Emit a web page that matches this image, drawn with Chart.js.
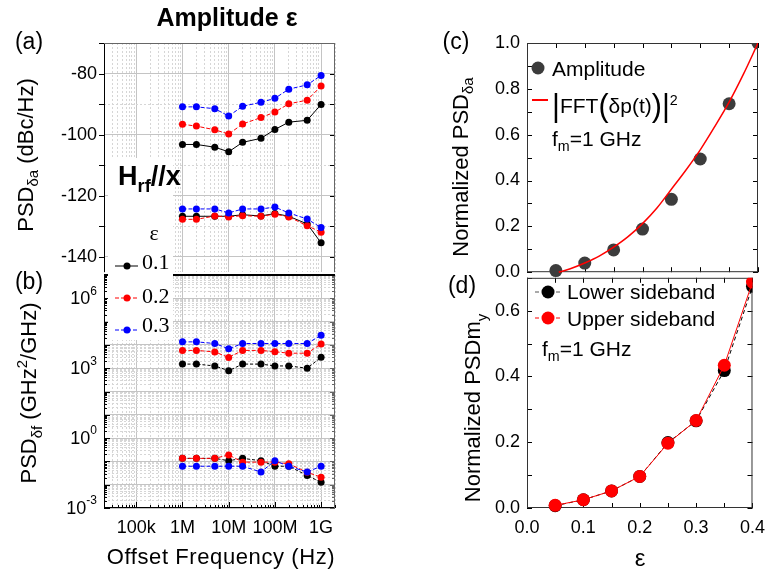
<!DOCTYPE html>
<html>
<head>
<meta charset="utf-8">
<script src="https://cdn.jsdelivr.net/npm/chart.js@4.4.0/dist/chart.umd.min.js"></script>
<style>
body { margin: 0; background: #fff; }
#page { position: relative; width: 774px; height: 576px; overflow: hidden; font-family: "Liberation Sans", Arial, sans-serif; color: #000; }
canvas { position: absolute; }
.t { position: absolute; white-space: nowrap; line-height: 1; transform: translate(-50%, -50%); }
.l { position: absolute; white-space: nowrap; line-height: 1; transform: translate(0, -50%); }
.rot { transform: translate(-50%, -50%) rotate(-90deg); }
.sb { font-size: 0.68em; vertical-align: -0.35em; }
.sp { font-size: 0.68em; vertical-align: 0.6em; }
.serif { font-family: "Liberation Serif", "Times New Roman", serif; }
.big { font-size: 1.45em; font-weight: 100; vertical-align: -0.08em; }
svg { position: absolute; overflow: visible; }
</style>
</head>
<body>
<div id="page">
  <canvas id="chartA" width="345" height="290" style="left:0;top:0"></canvas>
  <canvas id="chartB" width="345" height="316" style="left:0;top:260px"></canvas>
  <canvas id="chartC" width="354" height="290" style="left:420px;top:0"></canvas>
  <canvas id="chartD" width="354" height="316" style="left:420px;top:260px"></canvas>

  <div style="position:absolute;left:108px;top:158px;width:65px;height:182px;background:#fff"></div>

  <div class="t" style="left:227px;top:17px;font-size:25px;font-weight:bold">Amplitude ε</div>
  <div class="t" style="left:29px;top:41px;font-size:23px">(a)</div>
  <div class="t" style="left:29px;top:281px;font-size:23px">(b)</div>
  <div class="t" style="left:456px;top:41px;font-size:23px">(c)</div>
  <div class="t" style="left:462px;top:285px;font-size:23px">(d)</div>

  <div class="t rot" style="left:28px;top:155px;font-size:22px">PSD<span class="sb">δa</span> (dBc/Hz)</div>
  <div class="t rot" style="left:30px;top:393px;font-size:22px">PSD<span class="sb">δf</span> (GHz<span class="sp">2</span>/GHz)</div>
  <div class="t rot" style="left:463px;top:167px;font-size:22px">Normalized PSD<span class="sb">δa</span></div>
  <div class="t rot" style="left:476px;top:408px;font-size:22px">Normalized PSDm<span class="sb" style="vertical-align:-0.5em">y</span></div>
  <div class="t" style="left:221px;top:557px;font-size:22px;letter-spacing:0.6px">Offset Frequency (Hz)</div>
  <div class="t" style="left:640px;top:558px;font-size:24px">ε</div>

  <div class="l" style="left:118px;top:179px;font-size:27px;font-weight:bold">H<span class="sb">rf</span>//x</div>
  <div class="t serif" style="left:154px;top:233px;font-size:22px">ε</div>
  <svg style="left:112px;top:252px" width="30" height="90">
    <line x1="3" x2="26" y1="14" y2="14" stroke="#000" stroke-width="1"/>
    <circle cx="15" cy="14" r="3.5" fill="#000"/>
    <line x1="3" x2="26" y1="46" y2="46" stroke="#ff0000" stroke-width="1" stroke-dasharray="4 2"/>
    <circle cx="15" cy="46" r="3.5" fill="#ff0000"/>
    <line x1="3" x2="26" y1="78" y2="78" stroke="#0000ff" stroke-width="1" stroke-dasharray="4 2"/>
    <circle cx="15" cy="78" r="3.5" fill="#0000ff"/>
  </svg>
  <div class="l serif" style="left:142px;top:262px;font-size:22px">0.1</div>
  <div class="l serif" style="left:142px;top:296px;font-size:22px">0.2</div>
  <div class="l serif" style="left:142px;top:325px;font-size:22px">0.3</div>

  <svg style="left:530px;top:60px" width="24" height="50">
    <circle cx="8" cy="8" r="6.5" fill="#3c3c3c"/>
    <line x1="2" x2="18" y1="40" y2="40" stroke="#ff0000" stroke-width="2"/>
  </svg>
  <div class="l" style="left:552px;top:68px;font-size:21px">Amplitude</div>
  <div class="l" style="left:552px;top:105px;font-size:21px"><span class="big">|</span>FFT<span class="big">(</span>δp(t)<span class="big">)</span><span class="big">|</span><span class="sp">2</span></div>
  <div class="l" style="left:552px;top:141px;font-size:21px">f<span class="sb">m</span>=1 GHz</div>

  <svg style="left:533px;top:280px" width="32" height="50">
    <line x1="2" x2="28" y1="12" y2="12" stroke="#555" stroke-width="1" stroke-dasharray="4 3"/>
    <circle cx="15" cy="12" r="6.5" fill="#000"/>
    <line x1="2" x2="28" y1="38" y2="38" stroke="#ff0000" stroke-width="1" stroke-dasharray="4 3"/>
    <circle cx="15" cy="38" r="6.5" fill="#ff0000"/>
  </svg>
  <div class="l" style="left:567px;top:291px;font-size:21px">Lower sideband</div>
  <div class="l" style="left:567px;top:318px;font-size:21px">Upper sideband</div>
  <div class="l" style="left:542px;top:351px;font-size:21px">f<span class="sb">m</span>=1 GHz</div>
</div>

<script>
// data ##################################################################

// offset frequencies (Hz) for panels (a) and (b)
var offsetFreq = [1e6, 2e6, 5e6, 1e7, 2e7, 5e7, 1e8, 2e8, 5e8, 1e9];

// (a) PSD of amplitude (dBc/Hz), upper and lower groups, eps = 0.1 / 0.2 / 0.3
var psdA_01_top = [-103.2, -103.2, -104.1, -105.6, -102.5, -101.2, -98.3, -95.9, -95.3, -90.1];
var psdA_02_top = [-96.6, -97.2, -98.4, -99.8, -96.5, -94.4, -92.6, -89.9, -88.7, -84.1];
var psdA_03_top = [-90.9, -90.9, -91.5, -93.9, -90.7, -89.4, -88.1, -85.1, -83.7, -80.6];
var psdA_01_bot = [-126.7, -126.7, -126.7, -126.7, -126.2, -126.6, -125.8, -126.7, -129.2, -135.4];
var psdA_02_bot = [-127.7, -127.7, -126.6, -126.9, -126.5, -126.7, -126.0, -126.9, -129.8, -131.9];
var psdA_03_bot = [-124.3, -124.3, -124.3, -125.6, -124.3, -124.3, -123.7, -125.6, -127.6, -130.4];

// (b) PSD of frequency (GHz^2/GHz)
var psdF_01_top = [1500, 1500, 1250, 780, 1500, 1500, 1250, 1250, 1000, 2950];
var psdF_02_top = [5800, 5800, 5000, 2900, 5800, 5800, 5100, 4400, 4400, 11000];
var psdF_03_top = [13500, 13500, 11500, 6800, 11500, 11500, 11500, 11500, 11500, 26000];
var psdF_01_bot = [0.135, 0.135, 0.135, 0.107, 0.135, 0.107, 0.062, 0.062, 0.025, 0.0126];
var psdF_02_bot = [0.135, 0.135, 0.135, 0.19, 0.093, 0.093, 0.093, 0.079, 0.034, 0.021];
var psdF_03_bot = [0.062, 0.062, 0.062, 0.062, 0.062, 0.035, 0.107, 0.062, 0.035, 0.062];

// (c) normalized PSD vs eps, and the |FFT|^2 curve
var epsValues = [0.05, 0.1, 0.15, 0.2, 0.25, 0.3, 0.35, 0.4];
var ampNorm = [0.007, 0.04, 0.097, 0.188, 0.318, 0.494, 0.735, 1.0];
var fftEps = [0.055, 0.075, 0.1, 0.125, 0.15, 0.175, 0.2, 0.225, 0.25, 0.275, 0.3, 0.325, 0.35, 0.375, 0.4];
var fftNorm = [0, 0.015, 0.04, 0.07, 0.109, 0.155, 0.212, 0.28, 0.362, 0.445, 0.534, 0.635, 0.742, 0.865, 1.0];

// (d) sidebands
var lowerSideband = [0.007, 0.025, 0.052, 0.096, 0.199, 0.265, 0.418, 0.674];
var upperSideband = [0.008, 0.025, 0.052, 0.096, 0.197, 0.266, 0.434, 0.687];

// tick labels
var freqTicks = [1e5, 1e6, 1e7, 1e8, 1e9];
var freqTickLabels = ['100k', '1M', '10M', '100M', '1G'];
var psdATicks = [-140, -120, -100, -80];
var psdAGrid = [-140, -130, -120, -110, -100, -90, -80, -70];
var psdFTicks = [1e-3, 1, 1e3, 1e6];
var psdFTickExp = ['-3', '0', '3', '6'];
var normTicksC = [0, 0.2, 0.4, 0.6, 0.8, 1.0];
var normTicksD = [0, 0.2, 0.4, 0.6];
var epsTicks = [0, 0.1, 0.2, 0.3, 0.4];


// helpers ##############################################################

var BLACK = '#000000', RED = '#ff0000', BLUE = '#0000ff';
var MAJOR = '#c4c4c4', MINOR = '#d6d6d6';

Chart.defaults.font.family = '"Liberation Sans", Arial, sans-serif';
Chart.defaults.color = '#000';

function logSteps(lo, hi) {
  var out = [];
  for (var e = Math.floor(Math.log10(lo)); e <= Math.ceil(Math.log10(hi)); e++) {
    for (var m = 1; m < 10; m++) {
      var v = m * Math.pow(10, e);
      if (v >= lo * 0.999 && v <= hi * 1.001) out.push(v);
    }
  }
  return out;
}
function steps(lo, hi, n) {
  var out = [];
  for (var i = 0; i <= n; i++) out.push(lo + (hi - lo) * i / n);
  return out;
}
function isDecade(v) { var l = Math.log10(v); return Math.abs(l - Math.round(l)) < 1e-6; }
function isMult(v, step) { var r = v / step; return Math.abs(r - Math.round(r)) < 1e-6; }

var freqGrid = logSteps(2e4, 2e9);
var psdFGrid = logSteps(1e-3, 1e7);

function pts(xs, ys) {
  return xs.map(function (x, i) { return {x: x, y: ys[i]}; });
}

function series(xs, ys, color, dash, order) {
  return {
    data: pts(xs, ys), borderColor: color, backgroundColor: color,
    borderWidth: 1, borderDash: dash, pointRadius: 3.5, pointHoverRadius: 3.5,
    pointBorderWidth: 0, order: order, clip: false
  };
}

function asTicks(list) {
  return function (s) { s.ticks = list.map(function (v) { return {value: v}; }); };
}

function opts(padding, scales) {
  return {
    responsive: false, animation: false, events: [],
    layout: {padding: padding},
    scales: scales,
    plugins: {legend: {display: false}, tooltip: {enabled: false}}
  };
}

function freqAxis(showLabels, h) {
  return {
    type: 'logarithmic', min: 2e4, max: 2e9,
    afterBuildTicks: asTicks(freqGrid),
    afterFit: function (s) { s.height = h; },
    grid: {drawTicks: false, color: function (c) { return c.tick && isDecade(c.tick.value) ? MAJOR : MINOR; }},
    border: {display: false, dash: function (c) { return c.tick && !isDecade(c.tick.value) ? [2, 2] : []; }},
    ticks: {
      display: showLabels, padding: 9, autoSkip: false, maxRotation: 0, minRotation: 0, font: {size: 18},
      callback: function (v) { var i = freqTicks.indexOf(v); return i >= 0 ? freqTickLabels[i] : ''; }
    }
  };
}

// size = fixed axis box (width for y, height for x)
function plainAxis(min, max, tickList, showLabels, horizontal, size) {
  return {
    type: 'linear', min: min, max: max,
    afterBuildTicks: asTicks(tickList),
    afterFit: function (s) { if (horizontal) s.height = size; else s.width = size; },
    grid: {display: false, drawTicks: false},
    border: {display: false},
    ticks: {
      display: showLabels, padding: horizontal ? 9 : 7, autoSkip: false, maxRotation: 0, minRotation: 0, font: {size: 18},
      callback: function (v) { return v.toFixed(1); }
    }
  };
}

// frame and tick marks, drawn through the chart scales
function frame(cfg) {
  return {
    id: 'frame',
    beforeDatasetsDraw: function (chart) {
      var ctx = chart.ctx, a = chart.chartArea;
      ctx.save();
      ctx.lineWidth = 1;
      cfg.ticks.forEach(function (t) {
        var scale = chart.scales[t.axis];
        ctx.strokeStyle = t.color || '#000';
        t.values.forEach(function (v) {
          var p = Math.round(scale.getPixelForValue(v)) + 0.5;
          var len = t.isMajor(v) ? t.major : t.minor;
          ctx.beginPath();
          if (t.side === 'left') { ctx.moveTo(a.left, p); ctx.lineTo(a.left + len, p); }
          if (t.side === 'right') { ctx.moveTo(a.right, p); ctx.lineTo(a.right - len, p); }
          if (t.side === 'top') { ctx.moveTo(p, a.top); ctx.lineTo(p, a.top + len); }
          if (t.side === 'bottom') { ctx.moveTo(p, a.bottom); ctx.lineTo(p, a.bottom - len); }
          ctx.stroke();
        });
      });
      cfg.sides.forEach(function (s) {
        var off = s.width % 2 ? 0.5 : 0;
        ctx.strokeStyle = s.color;
        ctx.lineWidth = s.width;
        ctx.beginPath();
        if (s.side === 'left') { ctx.moveTo(a.left + off, a.top); ctx.lineTo(a.left + off, a.bottom); }
        if (s.side === 'right') { ctx.moveTo(a.right - off, a.top); ctx.lineTo(a.right - off, a.bottom); }
        if (s.side === 'top') { ctx.moveTo(a.left, a.top + off); ctx.lineTo(a.right, a.top + off); }
        if (s.side === 'bottom') { ctx.moveTo(a.left, a.bottom - off); ctx.lineTo(a.right, a.bottom - off); }
        ctx.stroke();
      });
      ctx.restore();
    }
  };
}

// 10^n labels for panel (b)
var expLabels = {
  id: 'expLabels',
  afterDraw: function (chart) {
    var ctx = chart.ctx, s = chart.scales.y, right = chart.chartArea.left - 7;
    ctx.save();
    ctx.fillStyle = '#000';
    ctx.textBaseline = 'middle';
    psdFTicks.forEach(function (v, i) {
      var y = s.getPixelForValue(v);
      ctx.font = '12px "Liberation Sans", Arial, sans-serif';
      var ew = ctx.measureText(psdFTickExp[i]).width;
      ctx.textAlign = 'left';
      ctx.fillText(psdFTickExp[i], right - ew, y - 7);
      ctx.font = '18px "Liberation Sans", Arial, sans-serif';
      ctx.textAlign = 'right';
      ctx.fillText('10', right - ew, y + 1);
    });
    ctx.restore();
  }
};


// (a) amplitude PSD ####################################################

new Chart(document.getElementById('chartA'), {
  type: 'line',
  data: {datasets: [
    series(offsetFreq, psdA_03_top, BLUE, [4, 2], 1),
    series(offsetFreq, psdA_02_top, RED, [4, 2], 2),
    series(offsetFreq, psdA_01_top, BLACK, [], 3),
    series(offsetFreq, psdA_03_bot, BLUE, [4, 2], 1),
    series(offsetFreq, psdA_02_bot, RED, [4, 2], 2),
    series(offsetFreq, psdA_01_bot, BLACK, [], 3)
  ]},
  options: opts({left: 0, top: 43, right: 10, bottom: 15}, {
    x: freqAxis(false, 0),
    y: {
      type: 'linear', min: -145, max: -70,
      afterBuildTicks: asTicks(psdAGrid),
      afterFit: function (s) { s.width = 104; },
      grid: {drawTicks: false, color: function (c) { return c.tick && isMult(c.tick.value, 20) ? MAJOR : MINOR; }},
      border: {display: false, dash: function (c) { return c.tick && !isMult(c.tick.value, 20) ? [2, 2] : []; }},
      ticks: {
        padding: 7, autoSkip: false, font: {size: 18},
        callback: function (v) { return psdATicks.indexOf(v) >= 0 ? String(v) : ''; }
      }
    }
  }),
  plugins: [frame({
    ticks: [
      {axis: 'y', side: 'left', values: psdAGrid, isMajor: function () { return true; }, major: -5, minor: -5},
      {axis: 'y', side: 'right', values: psdAGrid, isMajor: function () { return true; }, major: 5, minor: 5}
    ],
    sides: [
      {side: 'left', color: '#000', width: 1},
      {side: 'top', color: '#666', width: 1},
      {side: 'right', color: '#666', width: 1}
    ]
  })]
});


// (b) frequency PSD ####################################################

new Chart(document.getElementById('chartB'), {
  type: 'line',
  data: {datasets: [
    series(offsetFreq, psdF_03_top, BLUE, [4, 2], 1),
    series(offsetFreq, psdF_02_top, RED, [4, 2], 2),
    series(offsetFreq, psdF_01_top, BLACK, [3, 2], 3),
    series(offsetFreq, psdF_03_bot, BLUE, [4, 2], 1),
    series(offsetFreq, psdF_02_bot, RED, [4, 2], 2),
    series(offsetFreq, psdF_01_bot, BLACK, [3, 2], 3)
  ]},
  options: opts({left: 0, top: 15, right: 10, bottom: 28}, {
    x: freqAxis(true, 40),
    y: {
      type: 'logarithmic', min: 1e-3, max: 1e7,
      afterBuildTicks: asTicks(psdFGrid),
      afterFit: function (s) { s.width = 104; },
      grid: {drawTicks: false, color: function (c) { return c.tick && isDecade(c.tick.value) ? MAJOR : MINOR; }},
      border: {display: false, dash: function (c) { return c.tick && !isDecade(c.tick.value) ? [2, 2] : []; }},
      ticks: {display: false}
    }
  }),
  plugins: [expLabels, frame({
    ticks: [
      {axis: 'y', side: 'left', values: psdFGrid, isMajor: isDecade, major: 6, minor: 3},
      {axis: 'y', side: 'right', values: psdFGrid, isMajor: isDecade, major: 5, minor: 3, color: '#666'},
      {axis: 'x', side: 'bottom', values: freqGrid, isMajor: isDecade, major: 6, minor: 3}
    ],
    sides: [
      {side: 'left', color: '#000', width: 1},
      {side: 'bottom', color: '#000', width: 1},
      {side: 'right', color: '#666', width: 1},
      {side: 'top', color: '#000', width: 2}
    ]
  })]
});


// (c) normalized amplitude PSD #########################################

var epsMarks = steps(0, 0.4, 8);
var normMarksC = steps(0, 1, 10);
var normMarksD = steps(0, 0.7, 7);
function tenth(v) { return isMult(v, 0.1); }
function fifth(v) { return isMult(v, 0.2); }

new Chart(document.getElementById('chartC'), {
  type: 'line',
  data: {datasets: [
    {
      data: pts(fftEps, fftNorm), borderColor: RED, borderWidth: 1.5, pointRadius: 0,
      tension: 0.3, order: 1, clip: {left: false, top: 0, right: 0, bottom: false}
    },
    {
      data: pts(epsValues, ampNorm), showLine: false, pointRadius: 6.5, pointHoverRadius: 6.5,
      pointBorderWidth: 0, backgroundColor: '#3c3c3c', borderColor: '#3c3c3c', order: 2,
      clip: {left: false, top: 0, right: 0, bottom: false}
    }
  ]},
  options: opts({left: 0, top: 43, right: 16, bottom: 14}, {
    x: plainAxis(0, 0.4, epsTicks, false, true, 0),
    y: plainAxis(0, 1, normTicksC, true, false, 107)
  }),
  plugins: [frame({
    ticks: [
      {axis: 'x', side: 'top', values: epsMarks, isMajor: tenth, major: 5, minor: 5},
      {axis: 'x', side: 'bottom', values: epsMarks, isMajor: tenth, major: 5, minor: 5},
      {axis: 'y', side: 'left', values: normMarksC, isMajor: fifth, major: 5, minor: 5},
      {axis: 'y', side: 'right', values: normMarksC, isMajor: fifth, major: 5, minor: 5}
    ],
    sides: [
      {side: 'left', color: '#333', width: 1},
      {side: 'top', color: '#333', width: 1},
      {side: 'right', color: '#333', width: 1},
      {side: 'bottom', color: '#333', width: 1}
    ]
  })]
});


// (d) sidebands ########################################################

new Chart(document.getElementById('chartD'), {
  type: 'line',
  data: {datasets: [
    {
      data: pts(epsValues, upperSideband), borderColor: RED, backgroundColor: RED, borderWidth: 1,
      pointRadius: 6.5, pointHoverRadius: 6.5, pointBorderWidth: 0, order: 1,
      clip: {left: false, top: 0, right: 0, bottom: false}
    },
    {
      data: pts(epsValues, lowerSideband), borderColor: BLACK, backgroundColor: BLACK, borderWidth: 1,
      borderDash: [4, 3], pointRadius: 6.5, pointHoverRadius: 6.5, pointBorderWidth: 0, order: 2,
      clip: {left: false, top: 0, right: 0, bottom: false}
    }
  ]},
  options: opts({left: 0, top: 16, right: 16, bottom: 28}, {
    x: plainAxis(0, 0.4, epsTicks, true, true, 40),
    y: plainAxis(0, 0.7, normTicksD, true, false, 107)
  }),
  plugins: [frame({
    ticks: [
      {axis: 'x', side: 'top', values: epsMarks, isMajor: tenth, major: 5, minor: 5},
      {axis: 'x', side: 'bottom', values: epsMarks, isMajor: tenth, major: 5, minor: 5},
      {axis: 'y', side: 'left', values: normMarksD, isMajor: fifth, major: 5, minor: 5},
      {axis: 'y', side: 'right', values: normMarksD, isMajor: fifth, major: 5, minor: 5}
    ],
    sides: [
      {side: 'left', color: '#333', width: 1},
      {side: 'top', color: '#333', width: 1},
      {side: 'right', color: '#333', width: 1},
      {side: 'bottom', color: '#333', width: 1}
    ]
  })]
});
</script>
</body>
</html>
